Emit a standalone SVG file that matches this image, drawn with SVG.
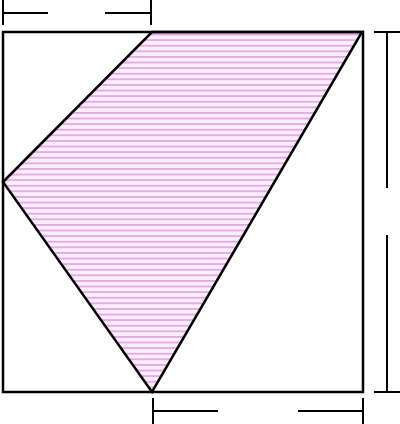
<svg xmlns="http://www.w3.org/2000/svg" width="400" height="424" viewBox="0 0 400 424">
<style>
.ln{stroke:#000;stroke-width:2.5;fill:none;stroke-linecap:butt}
.dim{stroke:#000;stroke-width:2;fill:none}
</style>
<defs>
<pattern id="hatch" patternUnits="userSpaceOnUse" width="10" height="5.6">
<rect width="10" height="5.6" fill="#fbeefb"/>
<rect y="0" width="10" height="1.8" fill="#e4a8e6"/>
</pattern>
</defs>
<rect width="400" height="424" fill="#fff"/>
<g id="shaded">
<polygon points="152,32 362,32 152,392 3,182" fill="url(#hatch)"/>
</g>
<g id="square">
<rect x="3" y="32" width="360" height="360" class="ln"/>
</g>
<g id="quad">
<polygon points="152,32 362,32 152,392 3,182" class="ln" stroke-linejoin="miter"/>
</g>
<g id="connectors">
<g id="dim-top" class="dim">
<line x1="3" y1="0" x2="3" y2="25"/>
<line x1="151" y1="0" x2="151" y2="25"/>
<line x1="3" y1="13" x2="48" y2="13"/>
<line x1="105" y1="13" x2="151" y2="13"/>
</g>
<g id="dim-right" class="dim">
<line x1="374" y1="32" x2="400" y2="32"/>
<line x1="374" y1="392" x2="400" y2="392"/>
<line x1="387" y1="32" x2="387" y2="188"/>
<line x1="387" y1="235" x2="387" y2="392"/>
</g>
<g id="dim-bottom" class="dim">
<line x1="153" y1="398" x2="153" y2="424"/>
<line x1="363" y1="398" x2="363" y2="424"/>
<line x1="153" y1="411" x2="218" y2="411"/>
<line x1="298" y1="411" x2="363" y2="411"/>
</g>
</g>
</svg>
